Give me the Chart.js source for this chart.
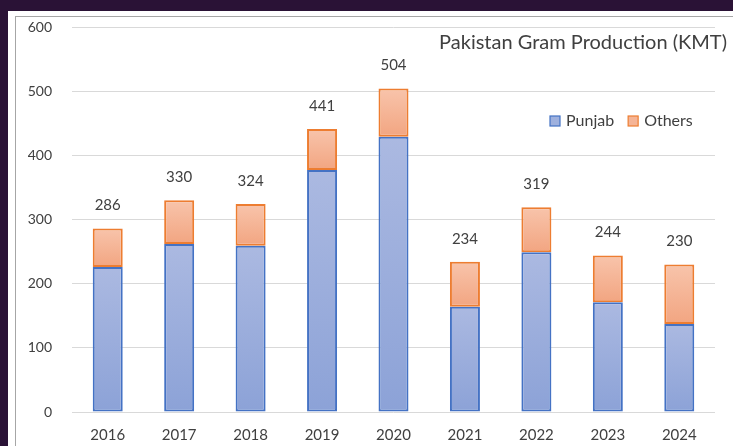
<!DOCTYPE html>
<html>
<head>
<meta charset="utf-8">
<script src="https://cdn.jsdelivr.net/npm/chart.js@4"></script>
<style>
  html, body { margin: 0; padding: 0; }
  body { width: 733px; height: 446px; overflow: hidden; background: #2a1236; position: relative; }
  .panel { position: absolute; left: 8px; top: 11px; width: 725px; height: 435px; background: #fff; }
  .frame { position: absolute; left: 15px; top: 16px; width: 718px; height: 430px;
           border-left: 1px solid #a6a6a6; border-top: 1px solid #a6a6a6; box-sizing: border-box; }
  .wrap { position: absolute; left: 16px; top: 17px; width: 717px; height: 429px; }
</style>
</head>
<body>
<div class="panel"></div>
<div class="frame"></div>
<div class="wrap"><canvas id="chart"></canvas></div>
<script>
// Pakistan gram production, thousand metric tonnes
const years = ['2016', '2017', '2018', '2019', '2020', '2021', '2022', '2023', '2024'];
const punjab = [226, 262, 259, 377, 429, 164, 249, 171, 137];
const others = [60, 68, 65, 64, 75, 70, 70, 73, 93];
const yTicks = [0, 100, 200, 300, 400, 500, 600];

const FONT = 'Lato, "Open Sans", sans-serif';
const TEXT = '#404040';

// per-bar vertical gradient, like the Excel fill
function barFill(light, dark) {
    return (ctx) => {
        const chart = ctx.chart;
        const y = chart.scales.y;
        if (!y || ctx.dataIndex === undefined) return dark;
        const i = ctx.dataIndex;
        const base = ctx.datasetIndex === 0 ? 0 : punjab[i];
        const top = base + ctx.dataset.data[i];
        const y0 = y.getPixelForValue(top);
        const y1 = y.getPixelForValue(base);
        if (!isFinite(y0) || !isFinite(y1) || y0 === y1) return dark;
        const g = chart.ctx.createLinearGradient(0, y0, 0, y1);
        g.addColorStop(0, light);
        g.addColorStop(1, dark);
        return g;
    };
}

// title, legend and total labels
const overlay = {
    id: 'overlay',
    afterDatasetsDraw(chart) {
        const c = chart.ctx;
        c.save();

        c.fillStyle = TEXT;
        c.font = '20px ' + FONT;
        c.textAlign = 'right';
        c.textBaseline = 'middle';
        c.fillText('Pakistan Gram Production (KMT)', 711, 26);

        // totals above each stack
        const meta = chart.getDatasetMeta(1);
        c.font = '15px ' + FONT;
        c.textAlign = 'center';
        meta.data.forEach((bar, i) => {
            c.fillText(String(punjab[i] + others[i]), bar.x, bar.y - 23);
        });

        // legend
        let x = 534;
        const ly = 104;
        c.font = '16px ' + FONT;
        c.textAlign = 'left';
        chart.data.datasets.forEach((ds) => {
            c.fillStyle = ds.legendFill;
            c.fillRect(x, ly - 5, 10, 10);
            c.strokeStyle = ds.borderColor;
            c.lineWidth = 1.2;
            c.strokeRect(x, ly - 5, 10, 10);
            c.fillStyle = TEXT;
            c.fillText(ds.label, x + 16, ly);
            x += 16 + c.measureText(ds.label).width + 14;
        });

        c.restore();
    }
};

new Chart(document.getElementById('chart'), {
    type: 'bar',
    data: {
        labels: years,
        datasets: [
            {
                label: 'Punjab',
                data: punjab,
                backgroundColor: barFill('#abb9e1', '#8ca2d7'),
                legendFill: '#9fb1de',
                borderColor: '#4472c4',
                borderWidth: 2,
                borderSkipped: false,
            },
            {
                label: 'Others',
                data: others,
                backgroundColor: barFill('#f8c4ab', '#f2a581'),
                legendFill: '#f5b496',
                borderColor: '#ed7d31',
                borderWidth: 2,
                borderSkipped: false,
            },
        ],
    },
    options: {
        responsive: true,
        maintainAspectRatio: false,
        animation: false,
        layout: { padding: { top: 10, right: 18, left: 0, bottom: 0 } },
        datasets: { bar: { barPercentage: 0.42, categoryPercentage: 1 } },
        plugins: {
            legend: { display: false },
            tooltip: { enabled: false },
        },
        scales: {
            x: {
                stacked: true,
                grid: { display: false, drawTicks: false },
                border: { display: false },
                ticks: { color: TEXT, font: { family: FONT, size: 15 }, padding: 14 },
                afterFit: (s) => { s.height = 34; },
            },
            y: {
                stacked: true,
                min: 0,
                max: 600,
                afterBuildTicks: (s) => { s.ticks = yTicks.map((v) => ({ value: v })); },
                grid: { color: '#d9d9d9', lineWidth: 1, drawTicks: false },
                border: { display: false },
                ticks: { color: TEXT, font: { family: FONT, size: 14 }, padding: 20 },
                afterFit: (s) => { s.width = 56; s.paddingTop = 0; s.paddingBottom = 0; },
            },
        },
    },
    plugins: [overlay],
});
</script>
</body>
</html>
